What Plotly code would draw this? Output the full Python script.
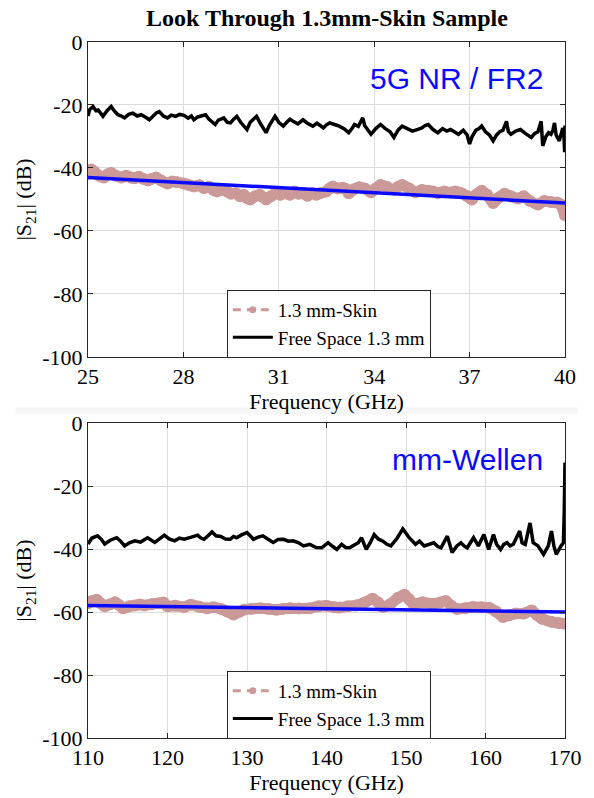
import plotly.graph_objects as go

# ---------------- data ----------------
# Top panel: 25-40 GHz
top_black_f = [25.00, 25.05, 25.16, 25.25, 25.32, 25.40, 25.47, 25.60, 25.73, 25.82, 25.94, 26.05, 26.15, 26.28,
               26.41, 26.55, 26.67, 26.80, 26.93, 27.05, 27.15, 27.24, 27.37, 27.50, 27.62, 27.76, 27.88, 28.02,
               28.15, 28.25, 28.33, 28.45, 28.58, 28.70, 28.80, 28.90, 29.00, 29.10, 29.27, 29.38, 29.48, 29.58,
               29.68, 29.80, 29.90, 30.00, 30.10, 30.20, 30.30, 30.40, 30.50, 30.60, 30.70, 30.80, 30.88, 31.00,
               31.14, 31.25, 31.35, 31.45, 31.60, 31.76, 31.90, 32.07, 32.20, 32.30, 32.40, 32.50, 32.60, 32.75,
               32.90, 33.05, 33.20, 33.30, 33.38, 33.50, 33.64, 33.70, 33.80, 33.90, 34.05, 34.20, 34.35, 34.50,
               34.62, 34.75, 34.88, 35.05, 35.20, 35.35, 35.50, 35.60, 35.70, 35.85, 36.00, 36.15, 36.28, 36.40,
               36.52, 36.65, 36.80, 36.92, 37.00, 37.08, 37.20, 37.30, 37.38, 37.50, 37.62, 37.74, 37.85, 37.95,
               38.05, 38.16, 38.22, 38.30, 38.45, 38.60, 38.75, 38.85, 38.94, 39.05, 39.15, 39.25, 39.28, 39.30,
               39.40, 39.48, 39.56, 39.62, 39.67, 39.72, 39.82, 39.88, 39.93, 39.97, 39.99, 40.00]
top_black_db = [-23.5, -21.5, -20.5, -21.8, -21.6, -22.8, -23.6, -21.8, -20.5, -21.8, -23.1, -23.5, -24.1, -23.0,
                -22.6, -23.5, -23.1, -23.8, -24.7, -23.5, -22.5, -22.1, -23.5, -24.1, -23.2, -23.6, -23.0, -23.3,
                -24.2, -23.5, -24.7, -23.8, -23.3, -23.1, -24.5, -25.3, -26.2, -24.8, -24.1, -25.5, -25.7, -24.5,
                -23.6, -25.5, -26.5, -27.8, -25.5, -24.5, -23.6, -25.5, -27.0, -28.8, -26.5, -25.0, -23.6, -25.5,
                -26.7, -25.5, -24.5, -25.2, -26.0, -24.7, -25.8, -26.7, -25.8, -26.5, -27.3, -26.3, -25.7, -26.2,
                -26.7, -27.5, -28.8, -27.5, -26.2, -26.8, -24.1, -26.5, -27.8, -29.3, -27.5, -26.2, -27.5, -28.5,
                -30.3, -28.0, -26.7, -27.5, -28.3, -27.8, -27.3, -26.5, -26.2, -27.8, -28.8, -27.5, -28.3, -27.8,
                -28.5, -29.3, -28.0, -29.5, -32.4, -30.0, -28.0, -27.5, -26.7, -28.5, -29.5, -31.4, -29.5, -28.5,
                -28.0, -25.2, -28.5, -29.3, -28.3, -27.8, -29.0, -29.8, -30.3, -29.0, -28.5, -25.2, -30.5, -33.0,
                -30.0, -28.8, -29.3, -28.0, -25.7, -29.5, -31.4, -29.0, -27.3, -30.5, -35.0, -26.5]

top_skin_f = [25.00, 25.10, 25.20, 25.35, 25.50, 25.62, 25.73, 25.88, 26.05, 26.20, 26.35, 26.46, 26.60, 26.75,
              26.88, 27.00, 27.14, 27.30, 27.50, 27.65, 27.80, 28.00, 28.15, 28.33, 28.50, 28.64, 28.80, 28.95,
              29.06, 29.20, 29.37, 29.50, 29.65, 29.78, 29.90, 30.00, 30.10, 30.25, 30.40, 30.50, 30.60, 30.75,
              30.90, 31.05, 31.20, 31.35, 31.50, 31.62, 31.76, 31.90, 32.05, 32.18, 32.30, 32.49, 32.60, 32.70,
              32.85, 33.00, 33.10, 33.20, 33.35, 33.53, 33.70, 33.90, 34.05, 34.20, 34.40, 34.62, 34.75, 34.88,
              35.10, 35.30, 35.50, 35.70, 35.85, 36.00, 36.20, 36.40, 36.55, 36.75, 36.90, 37.07, 37.20, 37.38,
              37.55, 37.74, 37.90, 38.10, 38.30, 38.52, 38.70, 38.90, 39.15, 39.35, 39.56, 39.75, 39.87, 39.95, 40.00]
top_skin_db = [-41.8, -40.5, -41.2, -42.5, -43.0, -42.0, -41.6, -42.5, -43.0, -42.5, -43.0, -43.3, -42.8, -43.5,
               -44.0, -43.5, -43.0, -44.0, -44.9, -44.3, -44.5, -44.9, -45.3, -45.9, -45.5, -46.4, -46.0, -47.0,
               -47.5, -46.8, -47.5, -48.2, -48.0, -49.0, -48.5, -49.5, -50.0, -49.0, -48.5, -49.2, -50.0, -49.0,
               -48.0, -48.5, -48.0, -48.5, -47.5, -48.2, -48.0, -48.8, -48.0, -48.5, -48.0, -47.5, -46.5, -45.9,
               -46.5, -46.3, -46.6, -48.0, -46.8, -46.1, -46.5, -47.7, -46.5, -45.4, -46.0, -46.9, -46.0, -45.4,
               -46.5, -47.7, -47.0, -47.2, -47.5, -48.0, -47.5, -47.8, -47.5, -48.0, -48.8, -50.0, -48.5, -47.2,
               -48.5, -51.1, -49.5, -48.2, -49.0, -49.7, -49.0, -50.5, -51.6, -50.5, -50.8, -51.0, -51.6, -53.5, -55.0]

top_fit_f = [25, 40]
top_fit_db = [-43.0, -51.1]

# Bottom panel: 110-170 GHz
bot_black_f = [110.0, 110.5, 111.2, 111.7, 112.1, 112.8, 113.6, 114.1, 114.6, 115.2, 115.9, 116.6, 117.5, 118.0,
               118.4, 119.0, 119.6, 120.2, 120.9, 121.5, 122.1, 122.9, 123.8, 124.2, 124.6, 125.1, 125.6, 126.1,
               126.7, 127.3, 127.9, 128.3, 128.7, 129.3, 130.0, 130.4, 130.8, 131.4, 132.0, 132.6, 133.3, 133.9,
               134.6, 135.2, 135.8, 136.5, 137.1, 137.9, 138.7, 139.4, 140.2, 140.8, 141.3, 141.9, 142.4, 142.9,
               143.6, 144.0, 144.4, 145.0, 145.5, 146.0, 146.5, 147.1, 147.6, 148.1, 148.9, 149.6, 150.0, 150.4,
               151.2, 151.7, 152.3, 152.9, 153.5, 154.0, 154.4, 155.2, 155.8, 156.4, 156.9, 157.3, 157.7, 158.5,
               159.1, 159.8, 160.4, 161.0, 161.4, 161.9, 162.3, 162.7, 163.1, 163.5, 164.3, 164.6, 165.0, 165.6,
               166.0, 166.6, 167.3, 167.9, 168.3, 168.6, 168.9, 169.5, 169.8, 169.9, 170.0, 170.0]
bot_black_db = [-38.4, -36.5, -35.8, -37.0, -38.4, -37.2, -36.4, -37.5, -39.0, -38.0, -37.4, -37.8, -36.4, -37.2,
                -37.9, -36.8, -35.6, -36.8, -37.4, -36.5, -36.9, -36.3, -35.6, -36.5, -36.9, -35.8, -34.6, -35.8,
                -36.0, -36.8, -36.9, -36.0, -36.4, -35.5, -34.8, -35.8, -36.9, -36.2, -35.8, -36.8, -37.9, -37.0,
                -36.9, -37.5, -37.4, -38.0, -39.0, -38.5, -39.5, -39.6, -38.0, -39.2, -40.1, -38.5, -39.5, -39.6,
                -38.5, -38.0, -36.4, -40.1, -38.0, -35.4, -36.8, -37.5, -38.5, -39.0, -36.5, -33.6, -35.0, -36.4,
                -38.5, -37.5, -39.0, -38.5, -38.0, -39.2, -39.6, -35.9, -41.1, -39.0, -38.0, -39.0, -39.6, -36.4,
                -39.0, -35.4, -40.1, -35.4, -38.5, -40.1, -38.5, -38.0, -39.0, -38.5, -34.3, -38.0, -38.5, -31.7,
                -38.0, -39.0, -41.7, -39.0, -34.3, -39.0, -41.7, -39.0, -38.0, -28.6, -12.5, -29.5]

bot_skin_f = [110.0, 110.5, 111.1, 111.6, 112.1, 112.8, 113.4, 113.9, 114.4, 115.2, 115.9, 116.5, 117.1, 118.0,
              119.0, 119.5, 120.0, 121.0, 122.1, 122.9, 124.0, 125.0, 125.8, 126.7, 127.5, 128.3, 129.0, 129.6,
              130.5, 131.7, 132.7, 133.7, 134.5, 135.4, 136.5, 137.9, 139.0, 140.0, 141.0, 141.7, 142.7, 143.7,
              144.8, 145.8, 146.5, 147.1, 148.0, 149.0, 149.8, 150.4, 150.9, 152.1, 153.4, 154.3, 155.0, 155.7,
              156.4, 157.4, 158.4, 159.5, 160.5, 161.3, 162.2, 163.0, 163.8, 164.8, 165.8, 166.5, 167.1, 168.3,
              169.2, 170.0]
bot_skin_db = [-57.2, -56.5, -56.1, -57.2, -58.2, -57.5, -56.9, -57.8, -58.8, -58.2, -57.9, -57.6, -57.9, -57.5,
               -57.2, -57.0, -58.2, -58.0, -58.4, -57.7, -58.3, -58.8, -58.5, -59.0, -59.8, -60.8, -60.0, -59.3,
               -59.0, -58.8, -59.0, -59.3, -59.0, -58.8, -58.9, -58.8, -58.2, -58.0, -58.5, -58.6, -58.2, -57.9,
               -57.0, -55.8, -57.0, -58.4, -57.5, -55.5, -54.5, -56.0, -57.4, -56.9, -57.4, -57.0, -56.5, -58.0,
               -59.0, -58.8, -58.4, -58.5, -58.7, -59.8, -61.6, -61.0, -60.5, -60.5, -59.5, -61.0, -62.1, -63.1,
               -63.5, -63.7]

bot_fit_f = [110, 170]
bot_fit_db = [-57.9, -60.0]

top_xticks = [25, 28, 31, 34, 37, 40]
bot_xticks = [110, 120, 130, 140, 150, 160, 170]
y_ticks = [0, -20, -40, -60, -80, -100]
y_ticktext = ["0", "-20", "-40", "-60", "-80", "-100"]

title_text = "Look Through 1.3mm-Skin Sample"
skin_name = "1.3 mm-Skin"
free_name = "Free Space 1.3 mm"
top_band_label = "5G NR / FR2"
bot_band_label = "mm-Wellen"

# ---------------- styles ----------------
PINK = "rgb(204,153,153)"
BLUE = "#0a0aff"
SERIF = "'Liberation Serif', 'Times New Roman', Times, serif"
SANS = "'Liberation Sans', Arial, sans-serif"

fig = go.Figure()


def add_panel(fig, xa, ya, legend, f_skin, db_skin, f_fit, db_fit, f_black, db_black):
    fig.add_trace(go.Scatter(x=f_skin, y=db_skin, mode="lines+markers",
                             line=dict(color=PINK, width=11, shape="spline", smoothing=0.6),
                             marker=dict(color=PINK, size=12, symbol="circle", line=dict(width=0)),
                             showlegend=False, xaxis=xa, yaxis=ya, hoverinfo="skip"))
    fig.add_trace(go.Scatter(x=f_fit, y=db_fit, mode="lines",
                             line=dict(color=BLUE, width=3.5), showlegend=False,
                             xaxis=xa, yaxis=ya))
    fig.add_trace(go.Scatter(x=f_black, y=db_black, mode="lines",
                             line=dict(color="black", width=3.5), showlegend=False,
                             xaxis=xa, yaxis=ya))
    # legend entries
    fig.add_trace(go.Scatter(x=[None], y=[None], mode="lines+markers", name=skin_name,
                             line=dict(color=PINK, width=3, dash="8px,6px"),
                             marker=dict(color=PINK, size=7, symbol="circle"),
                             legend=legend, xaxis=xa, yaxis=ya))
    fig.add_trace(go.Scatter(x=[None], y=[None], mode="lines", name=free_name,
                             line=dict(color="black", width=3),
                             legend=legend, xaxis=xa, yaxis=ya))


add_panel(fig, "x", "y", "legend", top_skin_f, top_skin_db, top_fit_f, top_fit_db, top_black_f, top_black_db)
add_panel(fig, "x2", "y2", "legend2", bot_skin_f, bot_skin_db, bot_fit_f, bot_fit_db, bot_black_f, bot_black_db)

axis_common = dict(showline=True, linecolor="#262626", linewidth=1, mirror="allticks",
                   ticks="inside", ticklen=5, tickcolor="#262626",
                   showgrid=True, gridcolor="#dcdcdc", gridwidth=1, zeroline=False,
                   tickfont=dict(family=SERIF, size=22, color="black"))

top_h = 319 / 705
title_font = dict(family=SERIF, size=22, color="black")
legend_common = dict(xanchor="left", xref="paper", yanchor="top", yref="paper",
                     bgcolor="white", bordercolor="#262626", borderwidth=1,
                     font=dict(family=SERIF, size=19, color="black"),
                     tracegroupgap=0, itemwidth=40)
fig.update_layout(
    width=594, height=798,
    margin=dict(l=88, r=25, t=42, b=51),
    paper_bgcolor="white", plot_bgcolor="white",
    xaxis=dict(domain=[0, 1], anchor="y", range=[25, 40], tickvals=top_xticks,
               title=dict(text="Frequency (GHz)", font=title_font, standoff=0),
               **axis_common),
    yaxis=dict(domain=[1 - top_h, 1], anchor="x", range=[-100, 0], tickvals=y_ticks, ticktext=y_ticktext,
               title=dict(text="|S<sub>21</sub>| (dB)", font=title_font, standoff=4),
               **axis_common),
    xaxis2=dict(domain=[0, 1], anchor="y2", range=[110, 170], tickvals=bot_xticks,
                title=dict(text="Frequency (GHz)", font=title_font, standoff=0),
                **axis_common),
    yaxis2=dict(domain=[0, top_h], anchor="x2", range=[-100, 0], tickvals=y_ticks, ticktext=y_ticktext,
                title=dict(text="|S<sub>21</sub>| (dB)", font=title_font, standoff=4),
                **axis_common),
    legend=dict(x=(228 - 88) / 481, y=(747 - 293) / 705, **legend_common),
    legend2=dict(x=(228 - 88) / 481, y=(747 - 679) / 705, **legend_common),
    showlegend=True,
)

# faint grey strip between the two pasted panels
fig.add_shape(type="rect", xref="paper", yref="paper", layer="below",
              x0=(15 - 88) / 481, x1=(582 - 88) / 481,
              y0=(747 - 419) / 705, y1=(747 - 412) / 705,
              fillcolor="#f6f6f6", line=dict(width=0))

fig.add_annotation(text="<b>" + title_text + "</b>", xref="paper", yref="paper",
                   x=0.5, y=1 + (42 - 18) / 705, xanchor="center", yanchor="middle",
                   showarrow=False, font=dict(family=SERIF, size=24, color="black"))
fig.add_annotation(text=top_band_label, xref="x domain", yref="y domain",
                   x=(549 - 88) / 481, y=0.884, xanchor="right", yanchor="middle",
                   showarrow=False, font=dict(family=SANS, size=30, color=BLUE))
fig.add_annotation(text=bot_band_label, xref="x2 domain", yref="y2 domain",
                   x=(549 - 88) / 481, y=0.884, xanchor="right", yanchor="middle",
                   showarrow=False, font=dict(family=SANS, size=30, color=BLUE))

fig.write_html("out.html")
